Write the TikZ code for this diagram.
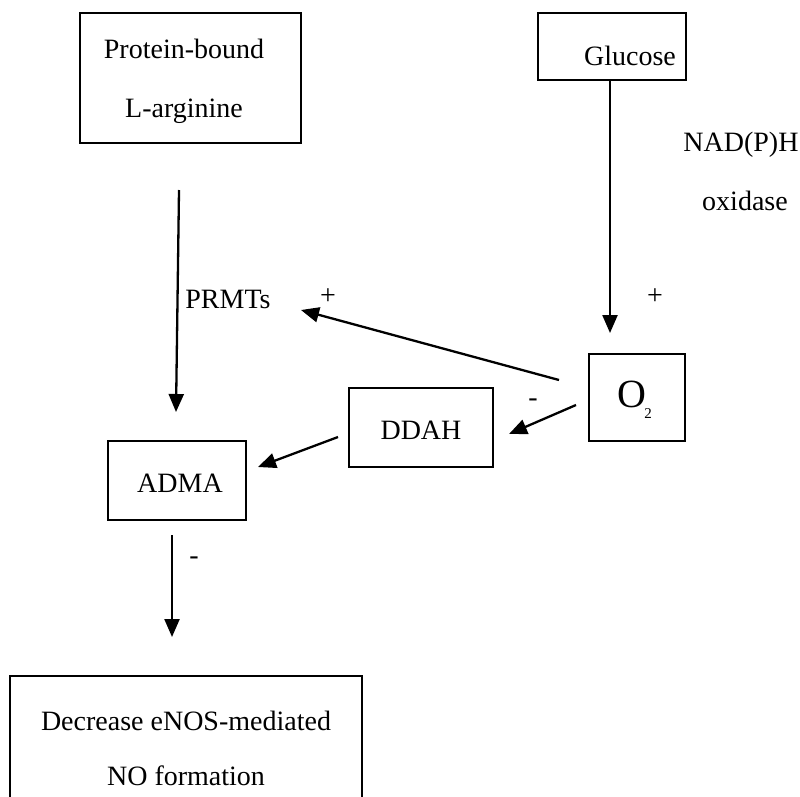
\documentclass[tikz,border=0pt]{standalone}
\usepackage{fontspec}
\setmainfont{Liberation Serif}
\usetikzlibrary{arrows.meta}
\begin{document}
\begin{tikzpicture}[x=1pt,y=-1pt,
  box/.style={draw,line width=1.7pt,inner sep=0pt},
  lbl/.style={inner sep=0pt,font=\fontsize{28}{28}\selectfont},
  conn/.style={line width=2.3pt,-{Triangle[length=18pt,width=15pt]}}]
\clip (0,0) rectangle (800,796);
\fill[white] (0,0) rectangle (800,796);
% boxes
\node[box,minimum width=221pt,minimum height=130pt] (prot) at (190.5,78) {};
\node[lbl] (prott1) at (184,49) {Protein-bound};
\node[lbl] (prott2) at (184,111) {L-arginine};
\node[box,minimum width=148pt,minimum height=67pt] (gluc) at (612,46.5) {};
\node[lbl] (glucl) at (630,56) {Glucose};
\node[box,minimum width=96pt,minimum height=87pt] (oxy) at (637,397.5) {};
\node[inner sep=0pt,font=\fontsize{40}{40}\selectfont] (oxyO) at (632,394) {O};
\node[inner sep=0pt,font=\fontsize{15}{15}\selectfont] (oxy2) at (648,414) {2};
\node[box,minimum width=144pt,minimum height=79pt] (ddah) at (421,427.5) {};
\node[lbl] (ddahl) at (421,430) {DDAH};
\node[box,minimum width=138pt,minimum height=79pt] (adma) at (177,480.5) {};
\node[lbl] (admal) at (180,483) {ADMA};
\node[box,minimum width=352pt,minimum height=160pt] (dec) at (186,756) {};
\node[lbl] (dect1) at (186,721) {Decrease eNOS-mediated};
\node[lbl] (dect2) at (186,776) {NO formation};
% labels
\node[lbl] (nadph) at (741,145) {NAD(P)H};
\node[lbl] (oxid) at (745,201) {oxidase};
\node[lbl] (prmt) at (228,299) {PRMTs};
\node[lbl] (plus1) at (328,297) {+};
\node[lbl] (plus2) at (655,297) {+};
\node[lbl] (minus1) at (533,403) {-};
\node[lbl] (minus2) at (194,561) {-};
% connector end points
\coordinate (p1s) at (179,190);
\coordinate (p1e) at (176,412);
\coordinate (g1s) at (610,80);
\coordinate (g1e) at (610,333);
\coordinate (o1s) at (559,380);
\coordinate (o1e) at (301,310);
\coordinate (o2s) at (576,405);
\coordinate (o2e) at (509,434);
\coordinate (d1s) at (338,437);
\coordinate (d1e) at (258,467);
\coordinate (a1s) at (172,535);
\coordinate (a1e) at (172,637);
\draw[conn] (p1s) -- (p1e);
\draw[conn] (g1s) -- (g1e);
\draw[conn] (o1s) -- (o1e);
\draw[conn] (o2s) -- (o2e);
\draw[conn] (d1s) -- (d1e);
\draw[conn] (a1s) -- (a1e);
\end{tikzpicture}
\end{document}
